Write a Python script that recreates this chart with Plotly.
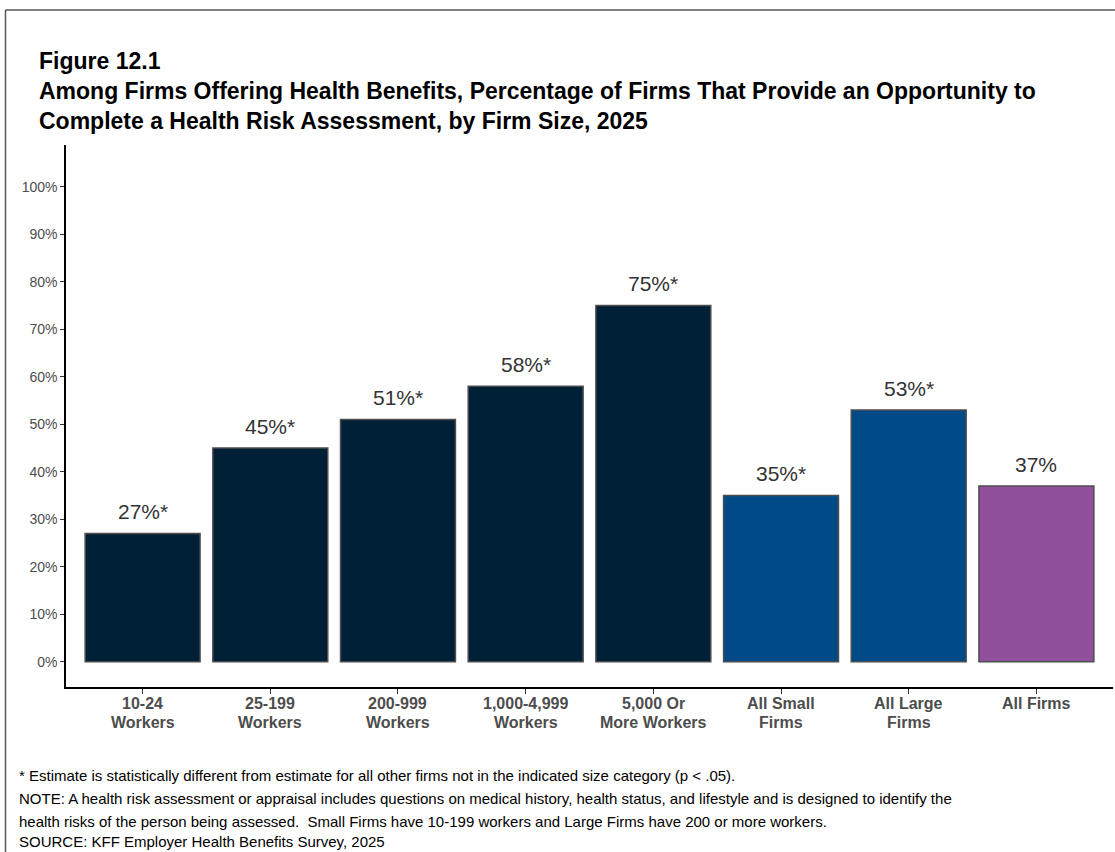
import plotly.graph_objects as go

categories = [["10-24", "Workers"], ["25-199", "Workers"], ["200-999", "Workers"],
              ["1,000-4,999", "Workers"], ["5,000 Or", "More Workers"],
              ["All Small", "Firms"], ["All Large", "Firms"], ["All Firms", ""]]
values = [27, 45, 51, 58, 75, 35, 53, 37]
labels = ["27%*", "45%*", "51%*", "58%*", "75%*", "35%*", "53%*", "37%"]
colors = ["#002038", "#002038", "#002038", "#002038", "#002038",
          "#004B87", "#004B87", "#91509C"]
y_ticks = [0, 10, 20, 30, 40, 50, 60, 70, 80, 90, 100]
y_tick_text = [f"{t}%" for t in y_ticks]

W, H = 1115, 852
L, R, T, B = 66, 2, 145, 165
pw, ph = W - L - R, H - T - B
FONT = "Liberation Sans, Arial"


def px_x(x):
    return (x - L) / pw


def px_y(y):
    return (H - B - y) / ph


xs = list(range(len(categories)))

fig = go.Figure()
fig.add_trace(go.Bar(
    x=xs,
    y=values,
    width=0.9,
    marker=dict(color=colors, line=dict(color="#4d4d4d", width=1.5)),
    hoverinfo="skip",
))

# value labels above each bar
for xi, v, lab in zip(xs, values, labels):
    fig.add_annotation(x=xi, y=v, xref="x", yref="y", text=lab,
                       showarrow=False, yanchor="middle", yshift=22,
                       font=dict(family=FONT, size=21, color="#333333"))

# two-line category labels below the axis
for xi, (l1, l2) in zip(xs, categories):
    for txt, yy in ((l1, 703.5), (l2, 722)):
        if not txt:
            continue
        fig.add_annotation(x=xi, xref="x", yref="paper", y=px_y(yy),
                           text=f"<b>{txt}</b>", showarrow=False,
                           xanchor="center", yanchor="middle",
                           font=dict(family=FONT, size=16, color="#4d4d4d"))

fig.update_layout(
    width=W, height=H,
    margin=dict(l=L, r=R, t=T, b=B),
    paper_bgcolor="white", plot_bgcolor="white",
    showlegend=False,
    font=dict(family=FONT, color="#4d4d4d"),
    xaxis=dict(
        range=[-0.6, 7.6],
        tickmode="array",
        tickvals=xs,
        showticklabels=False,
        showline=True, linecolor="#000000", linewidth=1.5,
        ticks="outside", ticklen=5, tickcolor="#333333", tickwidth=1.2,
        showgrid=False, zeroline=False,
    ),
    yaxis=dict(
        range=[-5.3, 108.8],
        tickmode="array",
        tickvals=y_ticks,
        ticktext=y_tick_text,
        tickfont=dict(size=14, color="#4d4d4d"),
        showline=True, linecolor="#000000", linewidth=1.5,
        ticks="outside", ticklen=4, tickcolor="#333333", tickwidth=1.2,
        showgrid=False, zeroline=False,
    ),
)

# Outer frame (top and left edges)
fig.add_shape(type="line", xref="paper", yref="paper",
              x0=px_x(5.5), x1=px_x(1200), y0=px_y(10), y1=px_y(10),
              line=dict(color="#555555", width=1.5))
fig.add_shape(type="line", xref="paper", yref="paper",
              x0=px_x(5.5), x1=px_x(5.5), y0=px_y(10), y1=px_y(900),
              line=dict(color="#555555", width=1.5))

title_font = dict(family=FONT, size=23, color="#000000")
title_lines = [
    ("<b>Figure 12.1</b>", 61),
    ("<b>Among Firms Offering Health Benefits, Percentage of Firms That Provide an Opportunity to</b>", 91.5),
    ("<b>Complete a Health Risk Assessment, by Firm Size, 2025</b>", 121),
]
for txt, yy in title_lines:
    fig.add_annotation(text=txt, xref="paper", yref="paper",
                       x=px_x(37), y=px_y(yy), xanchor="left", yanchor="middle",
                       showarrow=False, font=title_font)

notes = [
    "* Estimate is statistically different from estimate for all other firms not in the indicated size category (p < .05).",
    "NOTE: A health risk assessment or appraisal includes questions on medical history, health status, and lifestyle and is designed to identify the",
    "health risks of the person being assessed.  Small Firms have 10-199 workers and Large Firms have 200 or more workers.",
    "SOURCE: KFF Employer Health Benefits Survey, 2025",
]
note_y = [775, 798, 821, 841]
for txt, yy in zip(notes, note_y):
    fig.add_annotation(text=txt, xref="paper", yref="paper",
                       x=px_x(17), y=px_y(yy), xanchor="left", yanchor="middle",
                       showarrow=False,
                       font=dict(family=FONT, size=15, color="#000000"))

fig.write_html("out.html")
